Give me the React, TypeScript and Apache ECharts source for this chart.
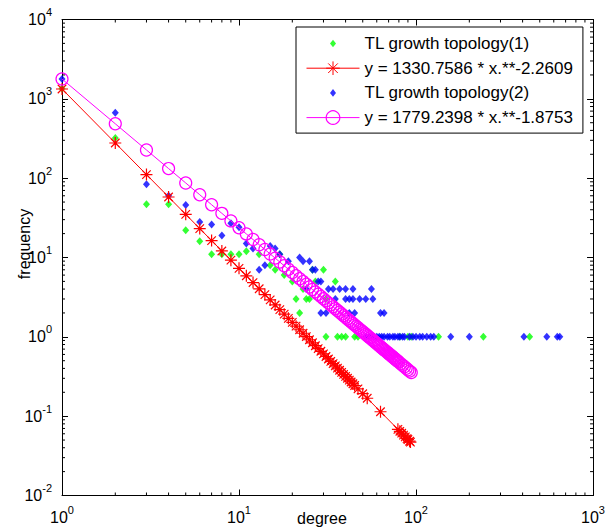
import React, { useEffect, useRef } from "react";
import * as echarts from "echarts";

// ---------------- data ----------------
const NAME_1 = "TL growth topology(1)";
const NAME_FIT_1 = "y = 1330.7586 * x.**-2.2609";
const NAME_2 = "TL growth topology(2)";
const NAME_FIT_2 = "y = 1779.2398 * x.**-1.8753";

// topology (1): [degree, frequency]
const GREEN_POINTS: [number, number][] = [
  [1, 1350], [2, 320], [3, 47], [4, 47], [5, 22], [6, 16], [7, 11], [8, 11], [9, 11], [10, 11],
  [11, 12], [13, 11], [15, 8], [16, 7], [17, 11], [18, 6], [20, 5], [21, 3], [22, 2], [23, 4],
  [24, 3], [25, 3], [26, 7], [27, 5], [30, 7], [31, 3], [35, 5], [31, 1], [36, 1], [38, 1],
  [40, 1], [45, 1], [47, 1], [81, 1], [90, 1], [94, 1], [134, 1], [240, 1], [438, 1],
];

// topology (2): [degree, frequency]
const BLUE_POINTS: [number, number][] = [
  [1, 1780], [2, 670], [3, 84], [4, 60], [5, 46], [6, 28], [7, 26], [8, 19], [9, 27], [10, 24],
  [11, 15], [12, 13], [13, 7], [14, 8], [15, 14], [16, 13], [17, 11], [19, 9], [22, 10], [23, 9],
  [25, 9], [26, 7], [27, 7], [28, 5], [29, 5], [24, 4], [32, 4], [34, 4], [37, 4], [40, 4],
  [44, 4], [56, 4], [35, 3], [40, 3], [42, 3], [44, 3], [48, 3], [52, 3], [57, 3], [29, 2],
  [31, 2], [42, 2], [45, 2], [63, 2], [66, 2],
  [52, 1], [54, 1], [56, 1], [58, 1], [60, 1], [62, 1], [64, 1], [66, 1], [69, 1], [71, 1],
  [74, 1], [76, 1], [79, 1], [81, 1], [84, 1], [86, 1], [92, 1], [96, 1], [100, 1], [105, 1],
  [109, 1], [115, 1], [121, 1], [126, 1], [157, 1], [200, 1], [407, 1], [548, 1], [628, 1], [649, 1],
];

// fitted power laws (coefficients from the legend)
const FIT_1_A = 1330.7586;
const FIT_1_B = -2.2609;
const FIT_2_A = 1779.2398;
const FIT_2_B = -1.8753;

const FIT_1_X = [
  1, 2, 3, 4, 5, 6, 7, 8, 9, 10, 11, 12, 13, 14, 15, 16, 17, 18, 19, 20, 21, 22, 23, 24, 25,
  26, 27, 28, 29, 30, 31, 32, 33, 34, 35, 36, 37, 38, 39, 40, 41, 42, 43, 44, 45, 47, 50, 53,
  63, 79, 81, 83, 85, 87, 89, 90, 92, 93,
];
const FIT_2_X = [
  1, 2, 3, 4, 5, 6, 7, 8, 9, 10, 11, 12, 13, 14, 15, 16, 17, 18, 19, 20, 21, 22, 23, 24, 25,
  26, 27, 28, 29, 30, 31, 32, 33, 34, 35, 36, 37, 38, 39, 40, 41, 42, 43, 44, 45, 46, 47, 48,
  49, 50, 51, 52, 53, 54, 55, 56, 57, 58, 59, 60, 61, 62, 63, 64, 65, 66, 67, 68, 69, 70, 71,
  72, 73, 74, 75, 76, 77, 78, 79, 80, 82, 84, 86, 88, 90, 92, 94,
];

// axes
const X_MIN = 1;
const X_MAX = 1000;
const Y_MIN = 0.01;
const Y_MAX = 10000;
const X_DECADES = [1, 10, 100];
const Y_DECADES = [0.01, 0.1, 1, 10, 100, 1000];
const MINOR_MULT = [2, 3, 4, 5, 6, 7, 8, 9];

const FONT = "'Liberation Sans', Arial, Helvetica, sans-serif";

const STAR = "path://M0,-10L0,10M-10,0L10,0M-7.07,-7.07L7.07,7.07M-7.07,7.07L7.07,-7.07";
const LEGEND_DIAMOND = "path://M0,0M53,17M26.5,4.7L29.5,8.5L26.5,12.3L23.5,8.5Z";

function minorTicks(decades: number[]): number[] {
  const out: number[] = [];
  decades.forEach((d) => MINOR_MULT.forEach((m) => out.push(+(d * m).toPrecision(6))));
  return out;
}

function supLabel(v: number): string {
  const e = Math.round(Math.log10(v));
  return `{b|10}{s|${e}}`;
}

const labelRich = {
  b: { fontSize: 16, fontFamily: FONT, color: "#000", lineHeight: 26 },
  s: { fontSize: 11, fontFamily: FONT, color: "#000", lineHeight: 11, verticalAlign: "top" },
};

export default function App() {
  const ref = useRef<HTMLDivElement>(null);

  useEffect(() => {
    if (!ref.current) return;
    const chart = echarts.init(ref.current, null, { renderer: "svg" });

    const fit1 = FIT_1_X.map((x) => [x, FIT_1_A * Math.pow(x, FIT_1_B)]);
    const fit2 = FIT_2_X.map((x) => [x, FIT_2_A * Math.pow(x, FIT_2_B)]);

    const axisLine = { show: true, onZero: false, lineStyle: { color: "#000", width: 1 } };
    const axisTick = { show: true, inside: true, length: 6, lineStyle: { color: "#000", width: 1 } };

    const xMinor = minorTicks(X_DECADES).map((v) => [v, 1]);
    const yMinor = minorTicks(Y_DECADES).map((v) => [1, v]);

    const option: any = {
      animation: false,
      backgroundColor: "#fff",
      grid: { left: 62, right: 12.5, top: 19.5, bottom: 31.5, containLabel: false },
      xAxis: [
        {
          type: "log", logBase: 10, min: X_MIN, max: X_MAX, position: "bottom",
          axisLine, axisTick, splitLine: { show: false }, minorTick: { show: false },
          axisLabel: {
            show: true, margin: 9, formatter: supLabel, rich: labelRich,
            showMinLabel: true, showMaxLabel: true, hideOverlap: false,
          },
        },
        {
          type: "log", logBase: 10, min: X_MIN, max: X_MAX, position: "top",
          axisLine, axisTick, splitLine: { show: false }, axisLabel: { show: false },
        },
      ],
      yAxis: [
        {
          type: "log", logBase: 10, min: Y_MIN, max: Y_MAX, position: "left",
          axisLine, axisTick, splitLine: { show: false }, minorTick: { show: false },
          axisLabel: {
            show: true, margin: 10, formatter: supLabel, rich: labelRich,
            showMinLabel: true, showMaxLabel: true, hideOverlap: false,
          },
        },
        {
          type: "log", logBase: 10, min: Y_MIN, max: Y_MAX, position: "right",
          axisLine, axisTick, splitLine: { show: false }, axisLabel: { show: false },
        },
      ],
      legend: {
        orient: "vertical",
        left: 296,
        top: 27,
        padding: [8, 10, 7, 10],
        itemGap: 7.7,
        itemWidth: 53,
        itemHeight: 17,
        backgroundColor: "#fff",
        borderColor: "#000",
        borderWidth: 1,
        borderRadius: 0,
        selectedMode: false,
        textStyle: { fontFamily: FONT, fontSize: 17, color: "#000" },
        data: [
          { name: NAME_1, icon: LEGEND_DIAMOND, itemStyle: { color: "#00ff00", borderWidth: 0 } },
          {
            name: NAME_FIT_1,
            itemStyle: { color: "#ff0000", borderColor: "#ff0000", borderWidth: 1 },
            lineStyle: { color: "#ff0000", width: 1 },
          },
          { name: NAME_2, icon: LEGEND_DIAMOND, itemStyle: { color: "#0000ff", borderWidth: 0 } },
          {
            name: NAME_FIT_2,
            itemStyle: { color: "rgba(255,0,255,0)", borderColor: "#ff00ff", borderWidth: 1.2 },
            lineStyle: { color: "#ff00ff", width: 1 },
          },
        ],
      },
      graphic: [
        {
          type: "text", x: 322, y: 518, silent: true,
          style: {
            text: "degree", fontSize: 16, fontFamily: FONT, fill: "#000",
            align: "center", verticalAlign: "middle", textAlign: "center", textVerticalAlign: "middle",
          },
        },
        {
          type: "text", x: 24, y: 244, rotation: Math.PI / 2, silent: true,
          style: {
            text: "frequency", fontSize: 16, fontFamily: FONT, fill: "#000",
            align: "center", verticalAlign: "middle", textAlign: "center", textVerticalAlign: "middle",
          },
        },
      ],
      series: [
        {
          type: "custom", name: "xminor", silent: true, xAxisIndex: 0, yAxisIndex: 0,
          data: xMinor,
          renderItem: (params: any, api: any) => {
            const v = api.value(0);
            const pb = api.coord([v, Y_MIN]);
            const pt = api.coord([v, Y_MAX]);
            return {
              type: "group",
              children: [
                { type: "line", shape: { x1: pb[0], y1: pb[1], x2: pb[0], y2: pb[1] - 3 }, style: { stroke: "#000", lineWidth: 1 } },
                { type: "line", shape: { x1: pt[0], y1: pt[1], x2: pt[0], y2: pt[1] + 3 }, style: { stroke: "#000", lineWidth: 1 } },
              ],
            };
          },
        },
        {
          type: "custom", name: "yminor", silent: true, xAxisIndex: 0, yAxisIndex: 0,
          data: yMinor,
          renderItem: (params: any, api: any) => {
            const v = api.value(1);
            const pl = api.coord([X_MIN, v]);
            const pr = api.coord([X_MAX, v]);
            return {
              type: "group",
              children: [
                { type: "line", shape: { x1: pl[0], y1: pl[1], x2: pl[0] + 3, y2: pl[1] }, style: { stroke: "#000", lineWidth: 1 } },
                { type: "line", shape: { x1: pr[0], y1: pr[1], x2: pr[0] - 3, y2: pr[1] }, style: { stroke: "#000", lineWidth: 1 } },
              ],
            };
          },
        },
        {
          type: "scatter", name: NAME_1, data: GREEN_POINTS,
          symbol: "diamond", symbolSize: [7, 8],
          itemStyle: { color: "#00ff00" },
        },
        {
          type: "line", name: NAME_FIT_1, data: fit1,
          symbol: STAR, symbolSize: 12, showSymbol: true, showAllSymbol: true,
          itemStyle: { color: "#ff0000", borderColor: "#ff0000", borderWidth: 1.2 },
          lineStyle: { color: "#ff0000", width: 1 },
        },
        {
          type: "scatter", name: NAME_2, data: BLUE_POINTS,
          symbol: "diamond", symbolSize: [7, 8],
          itemStyle: { color: "#0000ff" },
        },
        {
          type: "line", name: NAME_FIT_2, data: fit2,
          symbol: "circle", symbolSize: 12, showSymbol: true, showAllSymbol: true,
          itemStyle: { color: "rgba(255,0,255,0)", borderColor: "#ff00ff", borderWidth: 1.2 },
          lineStyle: { color: "#ff00ff", width: 1 },
        },
      ],
    };

    chart.setOption(option);
    return () => chart.dispose();
  }, []);

  return (
    <div
      ref={ref}
      style={{ position: "fixed", left: 0, top: 0, width: 608, height: 527, background: "#fff" }}
    />
  );
}
